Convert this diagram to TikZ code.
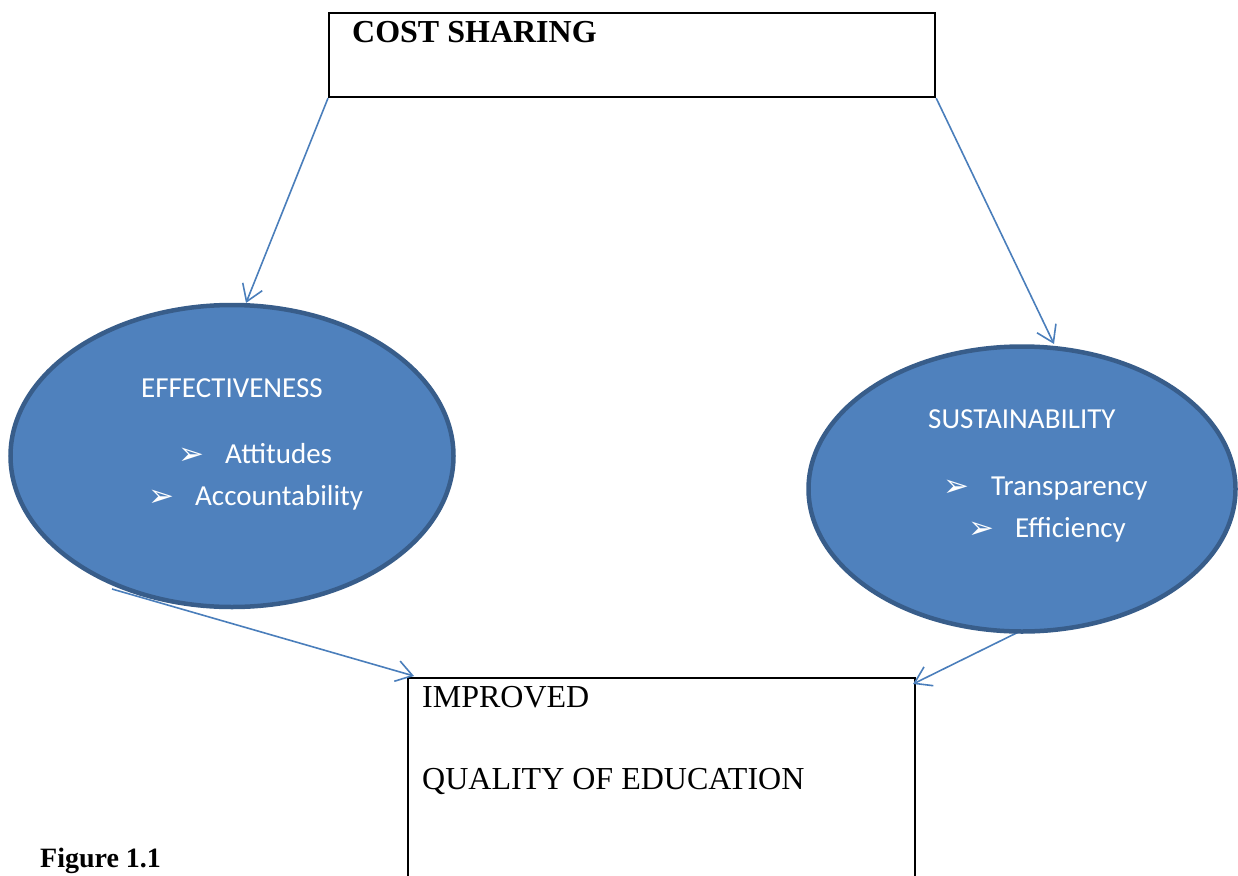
\documentclass[tikz,border=0pt]{standalone}
\usepackage{fontspec}
\setmainfont{Liberation Serif}
\newfontfamily\calibfont{Carlito}
\newfontfamily\symfont{DejaVu Sans}
\usetikzlibrary{shapes.geometric,arrows.meta}
\definecolor{ovalfill}{HTML}{4F81BD}
\definecolor{ovalrim}{HTML}{385D8A}
\definecolor{linkblue}{HTML}{4A7EBB}
\begin{document}
\begin{tikzpicture}[x=1pt,y=-1pt,
  box/.style={draw=black,line width=2.2pt,inner sep=0pt,anchor=north west},
  oval/.style={ellipse,draw=ovalrim,fill=ovalfill,line width=4.5pt,inner sep=0pt},
  link/.style={draw=linkblue,line width=1.6pt,-{Straight Barb[length=16pt,width=21pt]}},
  serifbig/.style={font=\fontsize{32}{38}\selectfont,inner sep=0pt,anchor=base west},
  ovaltext/.style={font=\calibfont\fontsize{29}{34}\selectfont,text=white,inner sep=0pt,anchor=base west},
  bullet/.style={font=\symfont\fontsize{31}{36}\selectfont,text=white,inner sep=0pt,anchor=base west}]
\useasboundingbox (0,0) rectangle (1238,875);

% boxes
\node[box,minimum width=606pt,minimum height=84pt] (cost) at (328,12) {};
\node[box,minimum width=507pt,minimum height=210pt] (qual) at (407,677) {};

% arrow ends
\coordinate (effTop) at (246,303);
\coordinate (susTop) at (1054,344);
\coordinate (effOut) at (112,589);
\coordinate (susOut) at (1193,546);
\coordinate (qualLeft) at (414,676);
\coordinate (qualRight) at (913,684);

% link starting behind the right oval
\draw[link] (susOut) -- (qualRight);

% ovals
\node[oval,minimum width=443pt,minimum height=302pt] (eff) at (232,456) {};
\node[oval,minimum width=427pt,minimum height=285pt] (sus) at (1022,489) {};

% links
\draw[link] (cost.south west) -- (effTop);
\draw[link] (cost.south east) -- (susTop);
\draw[link] (effOut) -- (qualLeft);

% box labels
\node[serifbig,font=\bfseries\fontsize{32}{38}\selectfont] (costlbl) at (352,43) {COST SHARING};
\node[serifbig] (implbl) at (422,707) {IMPROVED};
\node[serifbig] (qoelbl) at (422,789) {QUALITY OF EDUCATION};
\node[serifbig,font=\bfseries\fontsize{28}{34}\selectfont] (figlbl) at (40,867) {Figure 1.1};

% left oval contents
\node[ovaltext] (efflbl) at (141,397) {EFFECTIVENESS};
\node[bullet] (b1) at (178,464) {➢};
\node[ovaltext] (att) at (225,463) {Attitudes};
\node[bullet] (b2) at (148,506) {➢};
\node[ovaltext] (acc) at (195,505) {Accountability};

% right oval contents
\node[ovaltext] (suslbl) at (928,428) {SUSTAINABILITY};
\node[bullet] (b3) at (943,496) {➢};
\node[ovaltext] (tra) at (991,495) {Transparency};
\node[bullet] (b4) at (968,538) {➢};
\node[ovaltext] (eff2) at (1015,537) {Efficiency};
\end{tikzpicture}
\end{document}
